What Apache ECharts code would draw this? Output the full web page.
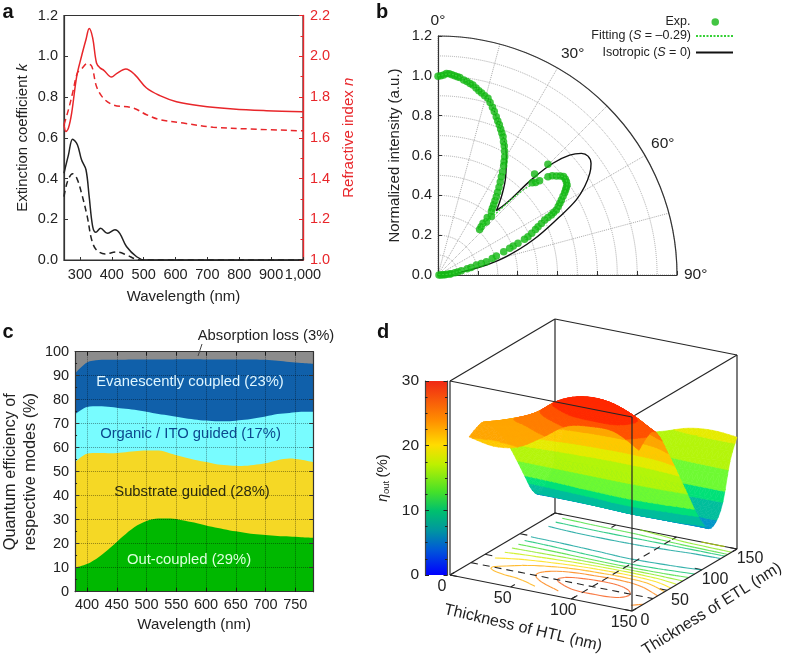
<!DOCTYPE html>
<html><head><meta charset="utf-8">
<style>html,body{margin:0;padding:0;background:#fff}#c{width:786px;height:659px}</style>
<script src="https://cdn.jsdelivr.net/npm/echarts@6/dist/echarts.min.js"></script>
</head><body><div id="c"></div>
<script>
// ---------- panel a ----------
const nSolid=[[250,1.664],[256,1.631],[264,1.648],[274,1.721],[290,1.902],[305,2.0],[319,2.082],[329,2.136],[340,2.09],[352,1.967],[363,1.943],[375,1.931],[399,1.898],[415,1.915],[444,1.938],[472,1.91],[509,1.844],[551,1.807],[603,1.777],[676,1.757],[781,1.741],[885,1.733],[1000,1.728]];
const nDashed=[[250,1.664],[264,1.738],[277,1.82],[292,1.918],[305,1.938],[323,1.964],[337,1.951],[352,1.852],[373,1.795],[405,1.761],[467,1.746],[509,1.713],[551,1.689],[624,1.672],[718,1.652],[833,1.643],[1000,1.634]];
const kSolid=[[250,.426],[264,.516],[277,.593],[292,.566],[305,.492],[319,.443],[329,.311],[340,.164],[350,.136],[365,.156],[386,.131],[410,.148],[425,.131],[446,.066],[478,.016],[504,0],[1000,0]];
const kDashed=[[250,.311],[261,.385],[277,.423],[290,.402],[305,.328],[323,.213],[337,.098],[352,.049],[379,.03],[415,.039],[446,.025],[478,.003],[499,0],[1000,0]];
const wavelengthTicksA=[300,400,500,600,700,800,900,1000];
// ---------- panel b: [intensity, angle] ----------
const expPoints=[[.998,0],[1,.8],[1.005,1.6],[1.013,2.4],[1.012,3.2],[1.008,4],[1.004,4.8],[1,5.6],[.998,6.3],[.988,7.5],[.982,8.5],[.975,9.5],[.97,10.4],[.958,11.5],[.948,12.5],[.94,13.5],[.93,14.6],[.922,15.8],[.905,16.8],[.885,18],[.868,19],[.847,20.2],[.83,21.2],[.815,22.2],[.798,23.2],[.782,24.2],[.767,25.2],[.745,26.2],[.728,27.2],[.705,28.3],[.682,29.4],[.66,30.2],[.64,31],[.612,32],[.587,32.8],[.562,33.8],[.537,34.8],[.512,35.8],[.49,36.7],[.47,37.5],[.45,38.4],[.432,39.2],[.416,40.1],[.38,40.6],[.344,41.1],[.325,41.8],[.31,42.4],[.36,42.4],[.397,42.4],[.662,45.6],[.702,43.7],[.783,44.8],[.675,46.5],[.696,47.1],[.741,48.2],[.76,49],[.775,50.1],[.79,51],[.801,51.9],[.8,53],[.797,54],[.79,55.1],[.78,55.7],[.77,56.3],[.758,57],[.742,57.8],[.725,58.7],[.71,59.5],[.695,60.3],[.678,61.2],[.66,61.6],[.644,62.1],[.623,62.4],[.603,62.7],[.58,63.5],[.558,64.2],[.54,65],[.515,66],[.491,66.9],[.47,67.5],[.432,68.4],[.405,69],[.384,69.6],[.35,70.5],[.308,72],[.285,73],[.252,74.6],[.225,75],[.199,75.4],[.17,77],[.15,78],[.119,79.5],[.1,81],[.085,82.5],[.065,84],[.059,85],[.045,86],[.035,87],[.025,88],[.015,89],[.005,90]];
const fitCurve=[[1,0],[1.01,3],[.998,6.3],[.97,10.4],[.922,15.8],[.847,20.2],[.767,25.2],[.682,29.4],[.587,32.8],[.49,36.7],[.416,40.1],[.344,41.1],[.31,42.4],[.45,43.5],[.6,45],[.696,47.1],[.741,48.2],[.775,50.1],[.801,51.9],[.79,55.1],[.77,56.3],[.725,58.7],[.678,61.2],[.603,62.7],[.491,66.9],[.384,69.6],[.252,74.6],[.119,79.5],[.059,85],[0,90]];
const isoCurve=[[1,0],[1.01,3],[.998,6.3],[.97,10.4],[.922,15.8],[.847,20.2],[.767,25.2],[.686,30],[.6,34.5],[.506,39],[.436,42.2],[.497,43.6],[.68,44.5],[.805,45.8],[.894,47.7],[.944,49.7],[.961,51.6],[.951,53.9],[.917,56.2],[.86,58.9],[.79,61.5],[.677,64.4],[.508,69.8],[.355,75],[.248,78.3],[.11,83],[0,90]];
// ---------- panel c ----------
const wavelengthC=[380,400,420,440,460,480,500,520,540,560,580,600,620,640,660,680,700,720,740,760,780];
const outCoupledTop=[10,11.5,14.5,18.5,23,27,29.5,30.5,30.5,29.8,28.8,27.6,26.5,25.5,24.8,24,23.6,23.2,23,22.7,22.5];
const substrateTop=[54,57.5,57.8,57.7,58,58.5,58.8,58.8,57.6,56.2,55,54,53,52.6,52.4,52.8,53.5,54.8,55.5,55,54];
const organicTop=[74,77,77.3,77,76.3,75.8,75,74,73.3,72.5,71.8,71.3,71,71,71.5,72.2,73,74,74.5,75,75];
const evanescentTop=[91,95.5,96.5,96.6,96.6,96.7,96.7,96.8,96.8,96.9,96.9,96.8,96.8,96.8,96.8,96.8,96.6,96.2,95.7,95.3,95];
const absorptionTop=wavelengthC.map(()=>100);
const wavelengthTicksC=[400,450,500,550,600,650,700,750];
// ---------- panel d ----------
const htl=[10,30,50,70,90,110,130,150];
const etl=[10,20,30,40,50,60,70,80,90,100,110,120,130,140,150];
const etaOut=[
[21.1,20.4,21.0,23.2,25.7,26.4,26.3,24.2],
[21.8,22.4,23.2,25.8,27.9,28.0,27.4,25.4],
[22.1,23.2,24.6,27.4,28.9,28.9,27.6,25.9],
[21.0,22.5,24.4,26.8,27.9,28.0,26.7,24.3],
[19.5,21.0,22.6,24.4,25.2,25.5,24.4,21.5],
[17.7,18.6,19.6,20.8,21.5,21.7,21.0,18.7],
[15.3,15.6,16.1,16.6,17.0,17.0,16.6,15.7],
[12.6,12.5,12.3,12.0,11.7,11.8,12.2,12.8],
[9.8,9.6,9.2,8.8,8.4,8.6,9.2,9.8],
[7.1,7.0,6.9,6.7,6.5,6.6,6.8,7.3],
[5.9,6.0,6.0,6.0,6.0,5.9,5.8,5.7],
[6.9,7.2,7.3,7.3,7.2,6.9,6.4,6.1],
[9.0,9.2,9.3,9.3,9.1,8.9,8.7,8.6],
[11.8,12.0,12.1,12.2,12.6,13.4,13.8,14.2],
[14.0,14.2,14.5,15.0,16.0,17.2,17.6,17.3]];
const contourLevels=[7.5,10,12.5,15,17.5,20,22.5,25,27.5];
const bandLimits=[0,6.3,8.5,10,13,16.5,18.5,21,23.5,25.5,27,31];
const bandColors=['#0096c8','#00be9c','#00e178','#6efa32','#b4f50a','#e6eb00','#ffc800','#ffa500','#ff7d00','#ff5000','#ff2800'];
const paletteStops=[[0,'#0000ff'],[.13,'#0058d8'],[.23,'#0096a0'],[.33,'#00c06e'],[.43,'#46e128'],[.57,'#bef000'],[.67,'#ffdc00'],[.8,'#ff8c00'],[1,'#f02814']];
const axisTicks3D=[0,50,100,150];
const optimumHTL=100, optimumETL=30;

const FONT='"Liberation Sans",Arial,sans-serif', INK='#222', RED='#e8262a';
// oblique projection of the 150 x 150 x 30 box to the hidden plotting plane
const U=(h,e)=>182*h/150+105*e/150;
const V=(h,e,z)=>194*z/30-36*h/150+62*e/150;

// refine mesh for drawing
function cr(a,b,c,d,t){return .5*(2*b+(c-a)*t+(2*a-5*b+4*c-d)*t*t+(3*b-a-3*c+d)*t*t*t);}
function refine(arr,n){const o=[];for(let i=0;i<arr.length-1;i++){const a=arr[Math.max(i-1,0)],b=arr[i],c=arr[i+1],d=arr[Math.min(i+2,arr.length-1)];for(let k=0;k<n;k++)o.push(cr(a,b,c,d,k/n));}o.push(arr[arr.length-1]);return o;}
const SH=5,SE=3;
const hF=refine(htl,SH), eF=refine(etl,SE);
const byCol=htl.map((_,j)=>refine(etaOut.map(r=>r[j]),SE));
const zF=eF.map((_,i)=>refine(byCol.map(c=>c[i]),SH));
const cells=[];
for(let i=eF.length-2;i>=0;i--)for(let j=0;j<hF.length-1;j++){
  cells.push([hF[j],hF[j+1],eF[i],eF[i+1],zF[i][j],zF[i][j+1],zF[i+1][j],zF[i+1][j+1]]);
}
// clip a triangle [h,e,z] to a z interval
function clipZ(poly,lim,keepAbove){const out=[];for(let i=0;i<poly.length;i++){const a=poly[i],b=poly[(i+1)%poly.length];
  const ia=keepAbove?a[2]>=lim:a[2]<=lim, ib=keepAbove?b[2]>=lim:b[2]<=lim;
  if(ia)out.push(a);
  if(ia!==ib){const t=(lim-a[2])/(b[2]-a[2]);out.push([a[0]+(b[0]-a[0])*t,a[1]+(b[1]-a[1])*t,lim]);}
 }return out;}
function lerpColor(t){for(let i=1;i<paletteStops.length;i++){if(t<=paletteStops[i][0]){const a=paletteStops[i-1],b=paletteStops[i],f=(t-a[0])/(b[0]-a[0]);const p=s=>[1,3,5].map(k=>parseInt(s.substr(k,2),16));const A=p(a[1]),B=p(b[1]);return 'rgb('+A.map((v,q)=>Math.round(v+(B[q]-v)*f)).join(',')+')';}}return paletteStops[paletteStops.length-1][1];}
// contours on the floor
const segs=[];
contourLevels.forEach(L=>{
  for(let i=0;i<eF.length-1;i++)for(let j=0;j<hF.length-1;j++){
    const c=[[hF[j],eF[i],zF[i][j]],[hF[j+1],eF[i],zF[i][j+1]],[hF[j+1],eF[i+1],zF[i+1][j+1]],[hF[j],eF[i+1],zF[i+1][j]]];
    const pts=[];
    for(let k=0;k<4;k++){const a=c[k],b=c[(k+1)%4];if((a[2]<L)!==(b[2]<L)){const t=(L-a[2])/(b[2]-a[2]);pts.push([a[0]+(b[0]-a[0])*t,a[1]+(b[1]-a[1])*t]);}}
    if(pts.length>=2)segs.push([pts[0][0],pts[0][1],pts[1][0],pts[1][1],L]);
    if(pts.length===4)segs.push([pts[2][0],pts[2][1],pts[3][0],pts[3][1],L]);
  }
});
const B=150,T=30;
const backEdges=[[0,0,0,0,B,0],[0,B,0,B,B,0],[0,B,0,0,B,T],[B,B,0,B,B,T],[0,0,0,0,0,T],[0,0,T,0,B,T],[0,B,T,B,B,T],[B,B,T,B,0,T]];
const frontEdges=[[0,0,T,B,0,T],[B,0,T,B,0,0],[0,0,0,B,0,0],[B,0,0,B,B,0]];
function edgeItem(p,api,w,dash){const q=a=>api.coord(a);const v=[0,1,2,3,4,5].map(i=>api.value(i));
  const a=q([U(v[0],v[1]),V(v[0],v[1],v[2])]),b=q([U(v[3],v[4]),V(v[3],v[4],v[5])]);
  return {type:'line',shape:{x1:a[0],y1:a[1],x2:b[0],y2:b[1]},style:{stroke:'#262626',lineWidth:w,lineDash:dash||null,fill:null}};}
const dashedLines=[[0,optimumETL,0,B,optimumETL,0],[optimumHTL,0,0,optimumHTL,B,0]];
const floorTicks=[];
axisTicks3D.forEach(t=>{
  floorTicks.push([t,0,0,t,6,0]);floorTicks.push([B,t,0,B-6,t,0]);floorTicks.push([0,t,0,6,t,0]);floorTicks.push([t,B,0,t,B-6,0]);
});
const dXA={xAxisIndex:4,yAxisIndex:5,coordinateSystem:'cartesian2d',silent:true,animation:false,clip:false};
function custom(z,data,render,extra){return Object.assign({type:'custom',z,data,renderItem:render,encode:{x:0,y:1},progressive:0},dXA,extra||{});}

const TF=14.5;
const axBase=(o)=>Object.assign({axisLine:{show:true,onZero:false,lineStyle:{color:'#333',width:1.2}},axisTick:{inside:true,length:4,lineStyle:{color:'#333'}},splitLine:{show:false},axisLabel:{color:INK,fontFamily:FONT,fontSize:TF},nameTextStyle:{color:INK,fontFamily:FONT,fontSize:15},nameLocation:'middle'},o);

const option={
 animation:false,backgroundColor:'#fff',textStyle:{fontFamily:FONT},
 grid:[
  {left:64,top:15.5,width:239,height:244.5,show:true,borderColor:'#333',borderWidth:1.2,backgroundColor:'transparent'},
  {left:438,top:36,width:239,height:239},
  {left:72.7,top:351.7,width:240.5,height:240},
  {left:450,top:319,width:287,height:292},
  {left:425,top:381,width:22.5,height:194}
 ],
 polar:{center:[438,275],radius:[0,239]},
 angleAxis:{min:0,max:90,startAngle:90,endAngle:0,clockwise:true,interval:15,
   axisLine:{show:true,lineStyle:{color:'#333',width:1.2}},axisTick:{show:false},
   splitLine:{show:true,lineStyle:{color:'#aaa',type:'dotted',width:1}},
   axisLabel:{show:true,margin:7,color:INK,fontFamily:FONT,fontSize:15.5,formatter:v=>v%30===0?v+'°':''}},
 radiusAxis:{min:0,max:1.2,interval:.1,axisLine:{show:false},axisTick:{show:false},axisLabel:{show:false},
   splitLine:{show:true,lineStyle:{color:'#aaa',type:'dotted',width:1}}},
 xAxis:[
  axBase({gridIndex:0,type:'value',min:250,max:1000,name:'Wavelength (nm)',nameGap:29,
    axisTick:{inside:true,length:3,customValues:wavelengthTicksA,lineStyle:{color:'#333'}},
    axisLabel:{color:INK,fontFamily:FONT,fontSize:TF,margin:7,customValues:wavelengthTicksA,formatter:v=>v>=1000?'1,000':String(v)}}),
  axBase({gridIndex:1,type:'value',min:0,max:1.2,interval:.2,axisLabel:{show:false},name:''}),
  axBase({gridIndex:2,type:'value',min:380,max:780,name:'Wavelength (nm)',nameGap:26,z:5,
    axisTick:{inside:true,length:4,customValues:wavelengthTicksC,lineStyle:{color:'#222'}},
    axisLabel:{color:INK,fontFamily:FONT,fontSize:TF,margin:6,customValues:wavelengthTicksC}}),
  axBase({gridIndex:2,type:'value',position:'top',min:380,max:780,z:5,
    axisTick:{inside:true,length:4,customValues:wavelengthTicksC,lineStyle:{color:'#222'}},axisLabel:{show:false}}),
  {gridIndex:3,type:'value',min:0,max:287,show:false},
  {gridIndex:4,type:'value',min:0,max:1,show:false}
 ],
 yAxis:[
  axBase({gridIndex:0,type:'value',min:0,max:1.2,interval:.2,name:'{t|Extinction coefficient }{i|k}',nameGap:34,
    nameTextStyle:{rich:{t:{color:INK,fontFamily:FONT,fontSize:15},i:{color:INK,fontFamily:FONT,fontSize:15,fontStyle:'italic'}}},
    axisLabel:{color:INK,fontFamily:FONT,fontSize:TF,margin:6,formatter:v=>v.toFixed(1)}}),
  axBase({gridIndex:0,type:'value',position:'right',min:1,max:2.2,interval:.2,nameRotate:90,name:'{t|Refractive index }{i|n}',nameGap:38,
    axisLine:{show:true,lineStyle:{color:RED,width:1.4}},axisTick:{inside:true,length:4,lineStyle:{color:RED}},
    minorTick:{show:true,splitNumber:2,length:2.5,lineStyle:{color:RED}},
    nameTextStyle:{rich:{t:{color:RED,fontFamily:FONT,fontSize:15},i:{color:RED,fontFamily:FONT,fontSize:15,fontStyle:'italic'}}},
    axisLabel:{color:RED,fontFamily:FONT,fontSize:TF,margin:7,formatter:v=>v.toFixed(1)}}),
  axBase({gridIndex:1,type:'value',min:0,max:1.2,interval:.2,name:'Normalized intensity (a.u.)',nameGap:36,
    axisLabel:{color:INK,fontFamily:FONT,fontSize:TF,margin:6,formatter:v=>v.toFixed(1)}}),
  axBase({gridIndex:2,type:'value',min:0,max:100,interval:10,name:'Quantum efficiency of\nrespective modes (%)',nameGap:33,z:5,
    nameTextStyle:{color:INK,fontFamily:FONT,fontSize:16.3,lineHeight:20},
    splitLine:{show:true,lineStyle:{color:'rgba(0,0,0,.4)',type:'dotted',width:1}},
    minorTick:{show:true,splitNumber:2,length:2,lineStyle:{color:'#222'}},
    axisLabel:{color:INK,fontFamily:FONT,fontSize:TF,margin:6}}),
  axBase({gridIndex:2,type:'value',position:'right',min:0,max:100,interval:10,z:5,axisLabel:{show:false}}),
  {gridIndex:3,type:'value',min:-36,max:256,show:false},
  axBase({gridIndex:4,type:'value',min:0,max:30,interval:10,
    axisLine:{show:true,lineStyle:{color:'#444',width:1.2}},
    axisTick:{inside:true,length:4,lineStyle:{color:'#222'}},
    minorTick:{show:true,splitNumber:4,length:2.5,lineStyle:{color:'#222'}},z:5,
    axisLabel:{color:INK,fontFamily:FONT,fontSize:15.5,margin:6}}),
  axBase({gridIndex:4,type:'value',position:'right',min:0,max:30,interval:10,z:5,
    axisLine:{show:true,lineStyle:{color:'#444',width:1.2}},
    axisTick:{inside:true,length:4,lineStyle:{color:'#222'}},
    minorTick:{show:true,splitNumber:4,length:2.5,lineStyle:{color:'#222'}},axisLabel:{show:false}})
 ],
 legend:[
  {data:['Exp.'],right:67,top:15.5,padding:0,align:'right',orient:'vertical',itemWidth:7.5,itemHeight:7.5,itemGap:0,textStyle:{color:INK,fontFamily:FONT,fontSize:12.5,padding:[0,16,0,0]}},
  {data:['Fitting'],right:52,top:29.5,padding:0,align:'right',orient:'vertical',itemWidth:37,itemHeight:14,itemGap:0,itemStyle:{opacity:0},
    formatter:()=>'{t|Fitting (}{i|S}{t| = –0.29)}',textStyle:{rich:{t:{color:INK,fontFamily:FONT,fontSize:12.5},i:{color:INK,fontFamily:FONT,fontSize:12.5,fontStyle:'italic'}}}},
  {data:['Isotropic'],right:52,top:46,padding:0,align:'right',orient:'vertical',itemWidth:37,itemHeight:14,itemGap:0,itemStyle:{opacity:0},
    formatter:()=>'{t|Isotropic (}{i|S}{t| = 0)}',textStyle:{rich:{t:{color:INK,fontFamily:FONT,fontSize:12.5},i:{color:INK,fontFamily:FONT,fontSize:12.5,fontStyle:'italic'}}}}
 ],
 series:[
  {type:'line',xAxisIndex:0,yAxisIndex:1,data:nSolid,smooth:.35,symbol:'none',lineStyle:{color:RED,width:1.5}},
  {type:'line',xAxisIndex:0,yAxisIndex:1,data:nDashed,smooth:.35,symbol:'none',lineStyle:{color:RED,width:1.5,type:[6,4]}},
  {type:'line',xAxisIndex:0,yAxisIndex:0,data:kSolid,smooth:.35,symbol:'none',lineStyle:{color:'#222',width:1.5}},
  {type:'line',xAxisIndex:0,yAxisIndex:0,data:kDashed,smooth:.35,symbol:'none',lineStyle:{color:'#222',width:1.5,type:[6,4]}},

  {name:'Isotropic',type:'line',coordinateSystem:'polar',data:isoCurve,smooth:.4,symbol:'none',z:2,lineStyle:{color:'#111',width:1.4},itemStyle:{color:'#111'}},
  {name:'Exp.',type:'scatter',coordinateSystem:'polar',data:expPoints,symbol:'circle',symbolSize:7.5,z:3,itemStyle:{color:'#14b614'}},
  {name:'Fitting',type:'line',coordinateSystem:'polar',data:fitCurve,smooth:.4,symbol:'none',z:4,lineStyle:{color:'#35d035',width:1.3,type:[2,1.5]},itemStyle:{color:'#35d035'}},

  {type:'line',xAxisIndex:2,yAxisIndex:3,data:wavelengthC.map((w,i)=>[w,absorptionTop[i]]),symbol:'none',lineStyle:{width:0},areaStyle:{color:'#8c8c8c',opacity:1},z:2},
  {type:'line',xAxisIndex:2,yAxisIndex:3,data:wavelengthC.map((w,i)=>[w,evanescentTop[i]]),smooth:.3,symbol:'none',lineStyle:{width:0},areaStyle:{color:'#1060aa',opacity:1},z:2},
  {type:'line',xAxisIndex:2,yAxisIndex:3,data:wavelengthC.map((w,i)=>[w,organicTop[i]]),smooth:.3,symbol:'none',lineStyle:{width:0},areaStyle:{color:'#78fcff',opacity:1},z:2},
  {type:'line',xAxisIndex:2,yAxisIndex:3,data:wavelengthC.map((w,i)=>[w,substrateTop[i]]),smooth:.3,symbol:'none',lineStyle:{width:0},areaStyle:{color:'#f5d825',opacity:1},z:2},
  {type:'line',xAxisIndex:2,yAxisIndex:3,data:wavelengthC.map((w,i)=>[w,outCoupledTop[i]]),smooth:.3,symbol:'none',lineStyle:{width:0},areaStyle:{color:'#00b800',opacity:1},z:2,
   markLine:{silent:true,symbol:'none',label:{show:false},z:6,animation:false,lineStyle:{color:'rgba(0,0,0,.4)',type:'dotted',width:1},data:wavelengthTicksC.map(w=>({xAxis:w}))}},

  // colour bar
  {type:'custom',xAxisIndex:5,yAxisIndex:6,coordinateSystem:'cartesian2d',silent:true,z:2,data:[[0,0,1,30]],encode:{x:[0,2],y:[1,3]},
   renderItem:(p,api)=>{const a=api.coord([api.value(0),api.value(3)]),b=api.coord([api.value(2),api.value(1)]);
     return {type:'rect',shape:{x:a[0],y:a[1],width:b[0]-a[0],height:b[1]-a[1]},
       style:{fill:new echarts.graphic.LinearGradient(0,1,0,0,paletteStops.map(s=>({offset:s[0],color:s[1]})))}};}},

  // 3-D box behind the surface
  custom(2,backEdges,(p,api)=>edgeItem(p,api,1.2)),
  custom(2,floorTicks,(p,api)=>edgeItem(p,api,1.1)),
  custom(3,segs,(p,api)=>{const v=[0,1,2,3,4].map(i=>api.value(i));const a=api.coord([U(v[0],v[1]),V(v[0],v[1],0)]),b=api.coord([U(v[2],v[3]),V(v[2],v[3],0)]);
     return {type:'line',shape:{x1:a[0],y1:a[1],x2:b[0],y2:b[1]},style:{stroke:lerpColor(v[4]/30),lineWidth:1.1,opacity:.8,fill:null}};}),
  custom(3,dashedLines,(p,api)=>edgeItem(p,api,1.1,[7,5])),
  custom(4,cells,(p,api)=>{const v=[0,1,2,3,4,5,6,7].map(i=>api.value(i));
     const a=[v[0],v[2],v[4]],b=[v[1],v[2],v[5]],c=[v[1],v[3],v[7]],d=[v[0],v[3],v[6]];
     const kids=[];
     [[a,b,c],[a,c,d]].forEach(tri=>{
       const zs=tri.map(q=>q[2]),lo=Math.min(...zs),hi=Math.max(...zs);
       bandColors.forEach((col,k)=>{
         if(hi<bandLimits[k]||lo>bandLimits[k+1])return;
         let poly=clipZ(tri,bandLimits[k],true);if(poly.length<3)return;
         poly=clipZ(poly,bandLimits[k+1],false);if(poly.length<3)return;
         kids.push({type:'polygon',shape:{points:poly.map(q=>api.coord([U(q[0],q[1]),V(q[0],q[1],q[2])]))},style:{fill:col,stroke:col,lineWidth:.6}});
       });
     });
     return {type:'group',children:kids};}),
  custom(5,frontEdges,(p,api)=>edgeItem(p,api,1.2)),
  custom(5,axisTicks3D.map(t=>[t]),(p,api)=>{const t=api.value(0);const a=api.coord([U(t,0),V(t,0,0)]);
     return {type:'text',x:a[0]-8,y:a[1]+12,style:{text:String(t),fontFamily:FONT,fontSize:16,fill:INK,align:'center',verticalAlign:'middle'}};},{encode:{x:0}}),
  custom(5,axisTicks3D.map(t=>[t]),(p,api)=>{const t=api.value(0);const a=api.coord([U(B,t),V(B,t,0)]);
     return {type:'text',x:a[0]+13,y:a[1]+10,style:{text:String(t),fontFamily:FONT,fontSize:16,fill:INK,align:'center',verticalAlign:'middle'}};},{encode:{x:0}})
 ],
 graphic:[
  ...[['a',8,12],['b',382,12],['c',8,332],['d',383,332]].map(t=>({type:'text',x:t[1],y:t[2],style:{text:t[0],font:'bold 20px '+FONT,fill:'#111',align:'center',verticalAlign:'middle'}})),
  {type:'text',x:190,y:382,z:10,style:{text:'Evanescently coupled (23%)',font:'14.8px '+FONT,fill:'#dff6ff',align:'center',verticalAlign:'middle'}},
  {type:'text',x:190.5,y:434,z:10,style:{text:'Organic / ITO guided (17%)',font:'14.8px '+FONT,fill:'#0c4a8e',align:'center',verticalAlign:'middle'}},
  {type:'text',x:192,y:492,z:10,style:{text:'Substrate guided (28%)',font:'14.8px '+FONT,fill:'#2a2a10',align:'center',verticalAlign:'middle'}},
  {type:'text',x:189,y:560,z:10,style:{text:'Out-coupled (29%)',font:'14.8px '+FONT,fill:'#dcffdc',align:'center',verticalAlign:'middle'}},
  {type:'text',x:266,y:336,z:10,style:{text:'Absorption loss (3%)',font:'14.8px '+FONT,fill:INK,align:'center',verticalAlign:'middle'}},
  {type:'line',z:10,shape:{x1:202,y1:344,x2:198,y2:356},style:{stroke:'#444',lineWidth:1}},
  {type:'text',x:523,y:628,z:10,rotation:-.232,style:{text:'Thickness of HTL (nm)',font:'16px '+FONT,fill:INK,align:'center',verticalAlign:'middle'}},
  {type:'text',x:712,y:609,z:10,rotation:.557,style:{text:'Thickness of ETL (nm)',font:'16px '+FONT,fill:INK,align:'center',verticalAlign:'middle'}},
  {type:'text',x:383,y:478,z:10,rotation:Math.PI/2,style:{rich:{i:{font:'italic 14px '+FONT,fill:INK},s:{font:'9.5px '+FONT,fill:INK,verticalAlign:'bottom',padding:[6,0,0,0]},t:{font:'15px '+FONT,fill:INK}},text:'{i|η}{s|out} {t|(%)}',align:'center',verticalAlign:'middle'}}
 ]
};
const chart=echarts.init(document.getElementById('c'),null,{renderer:'canvas'});
chart.setOption(option);
</script></body></html>
